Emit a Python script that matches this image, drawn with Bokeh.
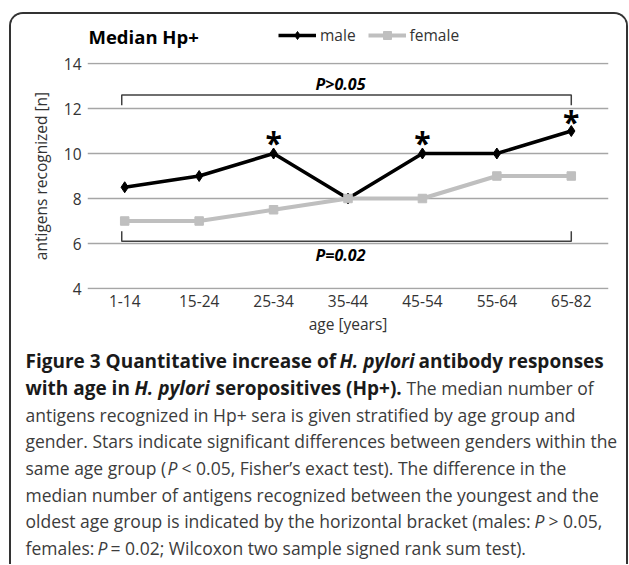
from bokeh.plotting import figure
from bokeh.layouts import column
from bokeh.models import (FactorRange, Range1d, FixedTicker, Label, Legend, LegendItem,
                          ColumnDataSource)
from bokeh.core.properties import value
from bokeh.embed import file_html
from bokeh.resources import INLINE

# ---------------- data ----------------
age_groups = ["1-14", "15-24", "25-34", "35-44", "45-54", "55-64", "65-82"]
male = [8.5, 9, 10, 8, 10, 10, 11]
female = [7, 7, 7.5, 8, 8, 9, 9]
y_ticks = [4, 6, 8, 10, 12, 14]
star_groups = ["25-34", "45-54", "65-82"]
star_y = [10.48, 10.48, 11.41]
male_bracket_y = 12.6      # P>0.05 bracket (males)
male_bracket_leg = 12.15
female_bracket_y = 6.1     # P=0.02 bracket (females)
female_bracket_leg = 6.55
male_p_text = "P>0.05"
female_p_text = "P=0.02"
male_p_y = 13.1
female_p_y = 5.5

# ---------------- geometry (page pixels) ----------------
BOX_LEFT, BOX_TOP, BORDER = 9, 12, 2
ORG_X, ORG_Y = BOX_LEFT + BORDER, BOX_TOP + BORDER      # content origin (11, 14)
CW = 615                                                # content width
H0, H1, H2 = 36, 294, 220                               # header, chart, caption
TOP1 = ORG_Y + H0                                       # page y of chart canvas top (50)
TOP2 = TOP1 + H1                                        # page y of caption top (344)
FRAME_L_PAGE, FRAME_R_PAGE = 87, 608
FRAME_T_PAGE = 62
Y4_PAGE, Y14_PAGE = 288, 63
PYU = (Y4_PAGE - Y14_PAGE) / 10.0
PXU = (FRAME_R_PAGE - FRAME_L_PAGE) / len(age_groups)
MB1 = TOP2 - (Y4_PAGE + 1)
MT1 = FRAME_T_PAGE - TOP1
Y_BOTTOM = 4 - 1 / PYU
Y_TOP = 14 + (Y14_PAGE - FRAME_T_PAGE) / PYU


def ux(px):
    return (px - FRAME_L_PAGE) / PXU


CHART_FONT = "Open Sans"
CAP_FONT = "Open Sans"

# ---------------- header figure: title + legend ----------------
h = figure(width=CW, height=H0, x_range=Range1d(ORG_X, ORG_X + CW),
           y_range=Range1d(TOP1, ORG_Y), output_backend="svg", toolbar_location=None,
           title=None, x_axis_type=None, y_axis_type=None, min_border=0,
           frame_align=False)
h.outline_line_color = None
h.xgrid.visible = False
h.ygrid.visible = False
h.text(x=[88], y=[36], text=["Median Hp+"], text_font=value(CHART_FONT),
       text_font_size="18.5px", text_font_style="bold", text_align="left",
       text_baseline="middle", text_color="black")
# legend swatch renderers (kept off-view; they only provide the legend glyphs)
hm_l = h.line(x=[-500, -400], y=[-500, -500], line_color="black", line_width=3.5)
hm_s = h.scatter(x=[-450], y=[-500], marker="diamond", size=11, fill_color="black",
                 line_color="black")
hf_l = h.line(x=[-500, -400], y=[-500, -500], line_color="#bfbfbf", line_width=4)
hf_s = h.scatter(x=[-450], y=[-500], marker="square", size=8.5, fill_color="#bfbfbf",
                 line_color="#bfbfbf")
legend = Legend(items=[LegendItem(label="male", renderers=[hm_l, hm_s]),
                       LegendItem(label="female", renderers=[hf_l, hf_s])],
                orientation="horizontal", location=(278 - ORG_X, TOP1 - 46),
                padding=0, margin=0, spacing=12, glyph_width=38, glyph_height=20,
                label_standoff=4, label_text_font=CHART_FONT,
                label_text_font_size="15.5px", label_text_color="#333333",
                border_line_color=None, background_fill_alpha=0)
h.add_layout(legend)

# ---------------- chart figure ----------------
p = figure(width=CW, height=H1, x_range=FactorRange(factors=age_groups),
           y_range=Range1d(Y_BOTTOM, Y_TOP), output_backend="svg", toolbar_location=None,
           title=None, min_border_left=FRAME_L_PAGE - ORG_X,
           min_border_right=ORG_X + CW - FRAME_R_PAGE, min_border_top=MT1,
           min_border_bottom=MB1, frame_align=False)
p.outline_line_color = None
p.background_fill_color = "white"
p.border_fill_color = "white"

p.yaxis.ticker = FixedTicker(ticks=y_ticks)
p.ygrid.ticker = FixedTicker(ticks=y_ticks)
p.xgrid.grid_line_color = None
p.ygrid.grid_line_color = "#a6a6a6"
p.ygrid.grid_line_width = 1.4
for ax in (p.xaxis, p.yaxis):
    ax.axis_line_color = None
    ax.major_tick_line_color = None
    ax.minor_tick_line_color = None
    ax.major_tick_out = 0
    ax.major_tick_in = 0
    ax.minor_tick_out = 0
    ax.major_label_text_font = CHART_FONT
    ax.major_label_text_font_size = "15.5px"
    ax.major_label_text_color = "#333333"
    ax.axis_label_text_font = CHART_FONT
    ax.axis_label_text_font_size = "15.5px"
    ax.axis_label_text_font_style = "normal"
    ax.axis_label_text_color = "#333333"
p.yaxis.axis_label = "antigens recognized [n]"
p.yaxis.major_label_standoff = 6
p.yaxis.axis_label_standoff = 9
p.xaxis.axis_label = "age [years]"
p.xaxis.major_label_standoff = 5
p.xaxis.axis_label_standoff = 3

# brackets
i0 = age_groups.index("1-14") + 0.46
i1 = age_groups.index("65-82") + 0.5
p.multi_line(xs=[[i0, i0, i1, i1], [i0, i0, i1, i1]],
             ys=[[male_bracket_leg, male_bracket_y, male_bracket_y, male_bracket_leg],
                 [female_bracket_leg, female_bracket_y, female_bracket_y, female_bracket_leg]],
             line_color="#404040", line_width=1.5)

src = ColumnDataSource(dict(age=age_groups, male=male, female=female))
p.line("age", "male", source=src, line_color="black", line_width=3.5)
p.scatter("age", "male", source=src, marker="diamond", size=11,
          fill_color="black", line_color="black")
p.line("age", "female", source=src, line_color="#bfbfbf", line_width=4)
p.scatter("age", "female", source=src, marker="square", size=8.5,
          fill_color="#bfbfbf", line_color="#bfbfbf")

# significance stars
p.text(x=star_groups, y=star_y, text=["*"] * len(star_groups),
       text_font=value(CHART_FONT), text_font_size="30px", text_font_style="bold",
       text_align="center", text_baseline="alphabetic", text_color="black")

# P labels
for txt, yy in ((male_p_text, male_p_y), (female_p_text, female_p_y)):
    p.add_layout(Label(x=ux(340), y=yy, text=txt, text_font=CHART_FONT,
                       text_font_size="16px", text_font_style="bold italic",
                       text_align="center", text_baseline="middle", text_color="black"))

# ---------------- caption figure ----------------
c = figure(width=CW, height=H2, x_range=Range1d(ORG_X, ORG_X + CW),
           y_range=Range1d(TOP2 + H2, TOP2), output_backend="svg",
           toolbar_location=None, title=None, x_axis_type=None, y_axis_type=None,
           min_border=0, frame_align=False)
c.outline_line_color = None
c.xgrid.visible = False
c.ygrid.visible = False

BOLD, BI, NORM, IT = "bold", "bold italic", "normal", "italic"
caption_lines = [
    [("Figure 3 Quantitative increase of", BOLD, 25), ("H. pylori", BI, 339),
     ("antibody responses", BOLD, 418)],
    [("with age in", BOLD, 25), ("H. pylori", BI, 134), ("seropositives (Hp+).", BOLD, 215),
     ("The median number of", NORM, 406)],
    [("antigens recognized in Hp+ sera is given stratified by age group and", NORM, 25)],
    [("gender. Stars indicate significant differences between genders within the", NORM, 25)],
    [("same age group (", NORM, 25), ("P", IT, 167),
     ("< 0.05, Fisher\u2019s exact test). The difference in the", NORM, 181)],
    [("median number of antigens recognized between the youngest and the", NORM, 25)],
    [("oldest age group is indicated by the horizontal bracket (males:", NORM, 25),
     ("P", IT, 534), ("> 0.05,", NORM, 548)],
    [("females:", NORM, 25), ("P", IT, 97),
     ("= 0.02; Wilcoxon two sample signed rank sum test).", NORM, 110)],
]
base0, step = 360.7, 26.67
groups = {}
for li, segs in enumerate(caption_lines):
    for txt, style, px in segs:
        g = groups.setdefault(style, dict(x=[], y=[], t=[]))
        g["x"].append(px)
        g["y"].append(base0 + li * step)
        g["t"].append(txt)
for style, g in groups.items():
    bold = "bold" in style
    c.text(x=g["x"], y=g["y"], text=g["t"], text_font=value(CAP_FONT),
           text_font_size="19px" if bold else "17.5px", text_font_style=style,
           text_align="left", text_baseline="alphabetic",
           text_color="#1a1a1a" if bold else "#3c3c3c")

layout = column(h, p, c, spacing=0,
                styles={"margin-left": f"{BOX_LEFT}px", "margin-top": f"{BOX_TOP}px",
                        "border": f"{BORDER}px solid #333333", "border-bottom": "none",
                        "border-radius": "14px 14px 0 0", "overflow": "hidden"})

open("out.html", "w").write(file_html(layout, INLINE))
